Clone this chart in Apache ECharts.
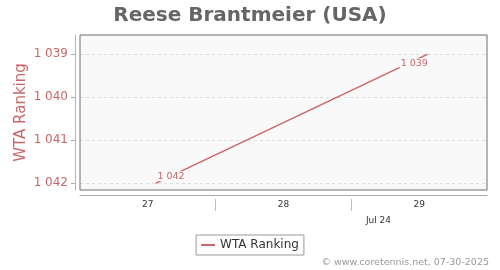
<!DOCTYPE html>
<html>
<head>
<meta charset="utf-8">
<script src="https://cdn.jsdelivr.net/npm/echarts@6/dist/echarts.min.js"></script>
<style>html,body{margin:0;padding:0;background:#fff}#c{width:500px;height:270px}</style>
</head>
<body>
<div id="c"></div>
<script>
// Data (day of month, July 2024)
var dayPositions = [27.06, 29.06];
var rankings = [1042, 1039];
var pointLabels = ['1 042', '1 039'];
var dayTickLabels = [27, 28, 29];
var dayTickBoundaries = [27.5, 28.5];
var monthLabelPos = [28.7];
var monthLabelText = 'Jul 24';
var rankTicks = [1039, 1040, 1041, 1042];
var titleText = 'Reese Brantmeier (USA)';
var seriesName = 'WTA Ranking';
var creditText = '\u00a9 www.coretennis.net, 07-30-2025';

var FONT = 'DejaVu Sans';
var RED = '#cc6666';
var labelOffsets = [[15, -7], [-13, 9]];

var chart = echarts.init(document.getElementById('c'), null, {renderer: 'canvas'});

var seriesData = dayPositions.map(function (d, i) {
  return {
    value: [d, rankings[i]],
    label: {offset: labelOffsets[i]}
  };
});

function fmtRank(v) {
  var s = String(Math.round(v));
  return s.length > 3 ? s.slice(0, s.length - 3) + ' ' + s.slice(-3) : s;
}

chart.setOption({
  animation: false,
  textStyle: {fontFamily: FONT},
  title: [{
    text: titleText,
    left: 'center',
    top: 1,
    textStyle: {fontSize: 20, fontWeight: 'bold', color: '#666', fontFamily: FONT}
  }, {
    text: creditText,
    right: 11,
    top: 258,
    padding: 0,
    textStyle: {fontSize: 9.5, fontWeight: 'normal', color: '#999', fontFamily: FONT}
  }],
  legend: {
    data: [{name: seriesName, icon: 'rect'}],
    left: 'center',
    top: 235,
    itemWidth: 14,
    itemHeight: 2,
    itemGap: 5,
    padding: [4, 5],
    borderColor: '#999',
    borderWidth: 1,
    textStyle: {fontSize: 12, color: '#333', fontFamily: FONT}
  },
  grid: [{
    left: 80, top: 35, right: 13, bottom: 80,
    show: true,
    backgroundColor: '#f9f9f9',
    borderWidth: 0
  }, {
    left: 80, top: 35, right: 13, bottom: 80,
    show: true,
    backgroundColor: 'transparent',
    borderColor: '#6e6e6e',
    borderWidth: 1,
    z: 3
  }],
  xAxis: [{
    type: 'value',
    gridIndex: 0,
    min: 26.5,
    max: 29.5,
    position: 'bottom',
    offset: 5,
    axisLine: {show: true, lineStyle: {color: '#aaa', width: 1}},
    axisTick: {show: false},
    splitLine: {show: false},
    axisLabel: {
      customValues: dayTickLabels,
      margin: 5,
      fontSize: 9,
      color: '#333',
      fontFamily: FONT,
      formatter: function (v) { return String(Math.round(v)); }
    }
  }, {
    type: 'value',
    gridIndex: 0,
    min: 26.5,
    max: 29.5,
    position: 'bottom',
    offset: 9,
    axisLine: {show: false},
    axisTick: {show: true, customValues: dayTickBoundaries, length: 12, lineStyle: {color: '#bbb'}},
    splitLine: {show: false},
    axisLabel: {
      customValues: monthLabelPos,
      margin: 17,
      fontSize: 9,
      color: '#333',
      fontFamily: FONT,
      formatter: function () { return monthLabelText; }
    }
  }, {
    type: 'value', gridIndex: 1, min: 0, max: 1, show: false
  }],
  yAxis: [{
    type: 'value',
    gridIndex: 0,
    inverse: true,
    min: 1038.55,
    max: 1042.16,
    offset: 5,
    name: seriesName,
    nameLocation: 'middle',
    nameGap: 46,
    nameMoveOverlap: false,
    nameTextStyle: {fontSize: 15, color: RED, fontFamily: FONT},
    axisLine: {show: true, lineStyle: {color: '#dfa3a3', width: 1}},
    axisTick: {show: true, customValues: rankTicks, length: 4, lineStyle: {color: '#aaa'}},
    splitLine: {show: true, lineStyle: {color: '#ddd', type: [3, 3], width: 1}},
    axisLabel: {
      customValues: rankTicks,
      margin: 7,
      fontSize: 12,
      color: RED,
      fontFamily: FONT,
      formatter: fmtRank
    }
  }, {
    type: 'value', gridIndex: 1, min: 0, max: 1, show: false
  }],
  series: [{
    name: seriesName,
    type: 'line',
    xAxisIndex: 0,
    yAxisIndex: 0,
    data: seriesData,
    symbol: 'circle',
    symbolSize: 1,
    showSymbol: true,
    itemStyle: {color: RED},
    lineStyle: {color: RED, width: 1.5},
    label: {
      show: true,
      position: 'inside',
      fontSize: 9.5,
      color: RED,
      fontFamily: FONT,
      backgroundColor: '#f9f9f9',
      padding: [0, 1],
      formatter: function (p) { return pointLabels[p.dataIndex]; }
    },
    z: 2
  }]
});
</script>
</body>
</html>
